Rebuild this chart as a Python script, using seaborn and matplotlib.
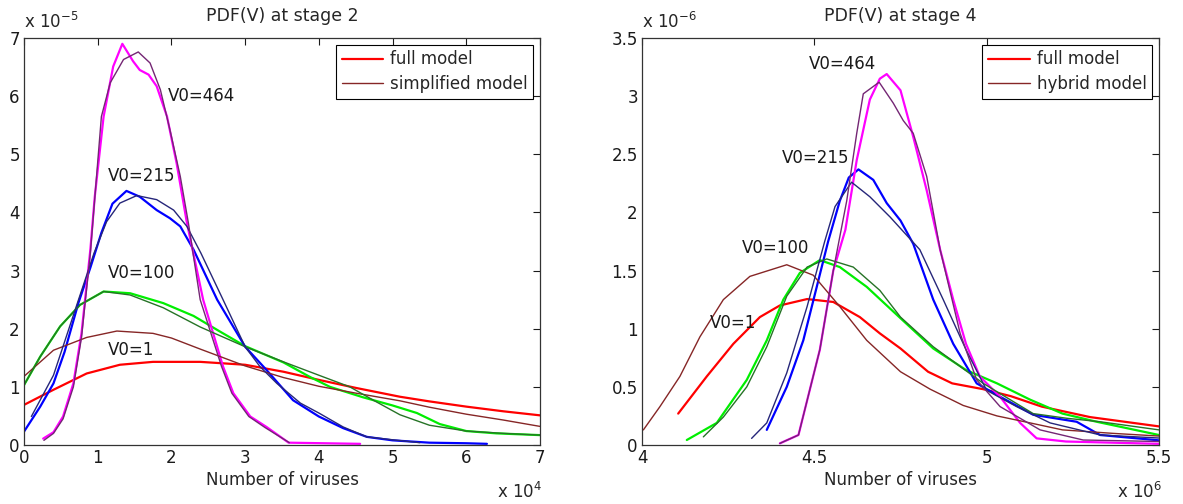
import numpy as np
import pandas as pd
import matplotlib
matplotlib.use("Agg")
import matplotlib.pyplot as plt
from matplotlib.ticker import FuncFormatter, MultipleLocator
import seaborn as sns

# ---- stage 2 (x in units of 1e4 viruses, pdf in units of 1e-5) ----
s2_full_1_x = [0, 0.2, 0.4, 0.85, 1.3, 1.75, 2.39, 3, 3.52, 4, 4.51, 5.1, 5.5, 6, 6.5, 7]
s2_full_1_y = [0.69, 0.82, 0.95, 1.23, 1.38, 1.43, 1.43, 1.38, 1.26, 1.12, 0.98, 0.83, 0.75, 0.66, 0.58, 0.51]
s2_simp_1_x = [0, 0.4, 0.85, 1.26, 1.75, 2.0, 2.39, 3, 3.52, 4, 4.51, 5.1, 5.5, 6, 6.5, 7]
s2_simp_1_y = [1.18, 1.63, 1.85, 1.96, 1.92, 1.84, 1.65, 1.36, 1.16, 1.01, 0.89, 0.76, 0.65, 0.53, 0.43, 0.32]

s2_full_100_x = [0, 0.22, 0.49, 0.76, 1.08, 1.44, 1.89, 2.3, 2.66, 3, 3.52, 3.88, 4.15, 4.6, 5.0, 5.33, 5.64, 6, 6.41, 7]
s2_full_100_y = [1.03, 1.52, 2.04, 2.41, 2.64, 2.61, 2.44, 2.22, 1.95, 1.70, 1.42, 1.17, 1.0, 0.82, 0.68, 0.55, 0.36, 0.24, 0.2, 0.17]
s2_simp_100_x = [0, 0.22, 0.49, 0.76, 1.08, 1.44, 1.89, 2.39, 3, 3.52, 4, 4.42, 4.74, 5.1, 5.5, 6, 6.5, 7]
s2_simp_100_y = [1.03, 1.52, 2.04, 2.41, 2.64, 2.58, 2.36, 2.03, 1.69, 1.43, 1.2, 1.0, 0.77, 0.52, 0.34, 0.24, 0.2, 0.17]

s2_full_215_x = [0, 0.22, 0.4, 0.55, 0.74, 0.9, 1.05, 1.2, 1.39, 1.57, 1.8, 1.98, 2.12, 2.3, 2.62, 3, 3.29, 3.65, 4, 4.33, 4.65, 5, 5.5, 6, 6.28]
s2_full_215_y = [0.23, 0.66, 1.06, 1.6, 2.45, 3.05, 3.65, 4.15, 4.37, 4.27, 4.04, 3.9, 3.76, 3.36, 2.5, 1.69, 1.29, 0.77, 0.49, 0.29, 0.14, 0.08, 0.04, 0.03, 0.02]
s2_simp_215_x = [0.1, 0.4, 0.74, 0.95, 1.12, 1.3, 1.53, 1.8, 2.03, 2.21, 2.4, 2.7, 3, 3.2, 3.43, 3.75, 4, 4.33, 4.65, 5, 5.37]
s2_simp_215_y = [0.49, 1.2, 2.5, 3.3, 3.84, 4.16, 4.29, 4.22, 4.04, 3.76, 3.3, 2.5, 1.69, 1.35, 1.06, 0.72, 0.55, 0.31, 0.14, 0.09, 0.04]

s2_full_464_x = [0.26, 0.4, 0.53, 0.67, 0.78, 0.9, 0.96, 1.08, 1.21, 1.334, 1.48, 1.57, 1.69, 1.8, 1.94, 2.07, 2.21, 2.43, 2.7, 2.84, 3.07, 3.29, 3.59, 4.56]
s2_full_464_y = [0.11, 0.22, 0.49, 1.06, 1.92, 3.36, 4.27, 5.65, 6.51, 6.9, 6.6, 6.45, 6.37, 6.17, 5.65, 4.85, 3.82, 2.5, 1.35, 0.89, 0.49, 0.31, 0.04, 0.02]
s2_simp_464_x = [0.27, 0.4, 0.53, 0.67, 0.78, 0.9, 1.05, 1.17, 1.35, 1.55, 1.71, 1.85, 1.98, 2.12, 2.23, 2.39, 2.68, 2.82, 3.05, 3.27, 3.6]
s2_simp_464_y = [0.08, 0.2, 0.45, 1.0, 1.85, 3.3, 5.65, 6.23, 6.63, 6.76, 6.57, 6.11, 5.42, 4.62, 3.82, 2.5, 1.35, 0.89, 0.49, 0.3, 0.04]

# ---- stage 4 (x in units of 1e6 viruses, pdf in units of 1e-6) ----
s4_full_1_x = [4.105, 4.188, 4.265, 4.342, 4.4, 4.479, 4.555, 4.632, 4.69, 4.75, 4.83, 4.9, 4.99, 5.07, 5.16, 5.3, 5.5]
s4_full_1_y = [0.27, 0.59, 0.87, 1.10, 1.20, 1.255, 1.23, 1.10, 0.96, 0.83, 0.63, 0.53, 0.48, 0.42, 0.33, 0.24, 0.16]
s4_hyb_1_x = [4.004, 4.052, 4.11, 4.168, 4.236, 4.313, 4.42, 4.497, 4.574, 4.652, 4.75, 4.836, 4.932, 5.03, 5.126, 5.22, 5.367, 5.5]
s4_hyb_1_y = [0.13, 0.33, 0.59, 0.93, 1.25, 1.45, 1.55, 1.46, 1.19, 0.90, 0.63, 0.48, 0.34, 0.25, 0.19, 0.13, 0.10, 0.077]

s4_full_100_x = [4.13, 4.217, 4.304, 4.362, 4.41, 4.458, 4.516, 4.574, 4.652, 4.75, 4.845, 4.94, 5.03, 5.126, 5.22, 5.319, 5.5]
s4_full_100_y = [0.043, 0.19, 0.56, 0.90, 1.25, 1.48, 1.59, 1.53, 1.36, 1.09, 0.83, 0.645, 0.53, 0.39, 0.27, 0.2, 0.086]
s4_hyb_100_x = [4.178, 4.236, 4.304, 4.362, 4.42, 4.479, 4.536, 4.613, 4.69, 4.75, 4.845, 4.99, 5.135, 5.232, 5.329, 5.5]
s4_hyb_100_y = [0.07, 0.24, 0.5, 0.845, 1.28, 1.53, 1.60, 1.53, 1.33, 1.10, 0.845, 0.53, 0.27, 0.23, 0.2, 0.13]

s4_full_215_x = [4.362, 4.42, 4.468, 4.507, 4.54, 4.574, 4.6, 4.628, 4.671, 4.71, 4.75, 4.787, 4.845, 4.903, 4.971, 5.039, 5.135, 5.261, 5.329, 5.5]
s4_full_215_y = [0.13, 0.5, 0.9, 1.36, 1.75, 2.1, 2.3, 2.37, 2.28, 2.08, 1.93, 1.73, 1.25, 0.87, 0.53, 0.415, 0.26, 0.2, 0.086, 0.04]
s4_hyb_215_x = [4.318, 4.362, 4.42, 4.479, 4.53, 4.56, 4.608, 4.661, 4.72, 4.806, 4.874, 4.94, 5.0, 5.087, 5.184, 5.33, 5.5]
s4_hyb_215_y = [0.057, 0.19, 0.62, 1.19, 1.75, 2.05, 2.26, 2.135, 1.96, 1.68, 1.25, 0.82, 0.47, 0.33, 0.19, 0.086, 0.06]

s4_full_464_x = [4.40, 4.454, 4.516, 4.555, 4.59, 4.623, 4.661, 4.69, 4.71, 4.75, 4.787, 4.826, 4.865, 4.903, 4.94, 4.98, 5.039, 5.097, 5.145, 5.23, 5.5]
s4_full_464_y = [0.014, 0.086, 0.82, 1.5, 1.85, 2.45, 2.97, 3.15, 3.19, 3.05, 2.65, 2.19, 1.68, 1.25, 0.87, 0.59, 0.415, 0.19, 0.057, 0.03, 0.01]
s4_hyb_464_x = [4.40, 4.454, 4.516, 4.555, 4.594, 4.623, 4.642, 4.688, 4.729, 4.758, 4.787, 4.826, 4.865, 4.923, 4.971, 5.039, 5.155, 5.28, 5.5]
s4_hyb_464_y = [0.014, 0.086, 0.82, 1.5, 2.1, 2.68, 3.02, 3.12, 2.94, 2.79, 2.68, 2.31, 1.68, 0.96, 0.56, 0.33, 0.13, 0.043, 0.03]

v0_names = ["V0=1", "V0=100", "V0=215", "V0=464"]
s2_label_x = [1.14, 1.14, 1.14, 1.95]
s2_label_y = [1.63, 2.95, 4.63, 6.0]
s4_label_x = [4.197, 4.289, 4.405, 4.483]
s4_label_y = [1.045, 1.69, 2.465, 3.28]

full_colors = ["#ff0000", "#00ee00", "#0000ff", "#ff00ff"]
simp_colors = ["#862626", "#267326", "#26267a", "#742674"]

sns.set_style("white")
plt.rcParams["font.family"] = ["DejaVu Sans"]
plt.rcParams["mathtext.default"] = "regular"

fig = plt.figure(figsize=(11.83, 5.04), dpi=100)
ax1 = fig.add_axes([24 / 1183, 59 / 504, 516 / 1183, 407 / 504])
ax2 = fig.add_axes([642 / 1183, 59 / 504, 517 / 1183, 407 / 504])


def draw_panel(ax, full, simp, lab_x, lab_y, title, other_name, xlim, ylim,
               xstep, ystep, xexp, yexp):
    sx, sy = 10.0 ** xexp, 10.0 ** yexp
    for (fx, fy), c in zip(full, full_colors):
        sns.lineplot(x=np.array(fx) * sx, y=np.array(fy) * sy, ax=ax, color=c, lw=1.6,
                     sort=False, estimator=None)
    for (hx, hy), c in zip(simp, simp_colors):
        sns.lineplot(x=np.array(hx) * sx, y=np.array(hy) * sy, ax=ax, color=c, lw=1.0,
                     sort=False, estimator=None)
    handles = [ax.lines[0], ax.lines[4]]
    leg = ax.legend(handles, ["full model", other_name], loc="upper right", fontsize=12,
                    frameon=True, fancybox=False, edgecolor="black", framealpha=1,
                    borderpad=0.35, labelspacing=0.4, handlelength=2.5,
                    handletextpad=0.4, borderaxespad=0.4)
    leg.get_frame().set_linewidth(0.8)

    for name, lx, ly in zip(v0_names, lab_x, lab_y):
        ax.text(lx * sx, ly * sy, name, fontsize=12, ha="left", va="center", color="#1a1a1a")

    ax.set_xlim(xlim[0] * sx, xlim[1] * sx)
    ax.set_ylim(ylim[0] * sy, ylim[1] * sy)
    ax.xaxis.set_major_locator(MultipleLocator(xstep * sx))
    ax.yaxis.set_major_locator(MultipleLocator(ystep * sy))
    ax.xaxis.set_major_formatter(FuncFormatter(lambda v, p: f"{v / sx:g}"))
    ax.yaxis.set_major_formatter(FuncFormatter(lambda v, p: f"{v / sy:g}"))
    ax.tick_params(direction="in", length=5, width=0.8, top=True, right=True,
                   labelsize=12, colors="#1a1a1a", pad=3)
    for sp in ax.spines.values():
        sp.set_color("#333333")
        sp.set_linewidth(0.9)
    ax.set_title(title, fontsize=12.5, pad=12)
    ax.set_xlabel("Number of viruses", fontsize=12, labelpad=3)
    ax.set_ylabel("")
    ax.text(0.0, 1.015, f"x 10$^{{{yexp}}}$", transform=ax.transAxes, fontsize=12,
            ha="left", va="bottom")
    ax.text(1.005, -0.13, f"x 10$^{{{xexp}}}$", transform=ax.transAxes, fontsize=12,
            ha="right", va="baseline")


draw_panel(ax1,
           [(s2_full_1_x, s2_full_1_y), (s2_full_100_x, s2_full_100_y),
            (s2_full_215_x, s2_full_215_y), (s2_full_464_x, s2_full_464_y)],
           [(s2_simp_1_x, s2_simp_1_y), (s2_simp_100_x, s2_simp_100_y),
            (s2_simp_215_x, s2_simp_215_y), (s2_simp_464_x, s2_simp_464_y)],
           s2_label_x, s2_label_y, "PDF(V) at stage 2", "simplified model",
           (0, 7), (0, 7), 1, 1, 4, -5)

draw_panel(ax2,
           [(s4_full_1_x, s4_full_1_y), (s4_full_100_x, s4_full_100_y),
            (s4_full_215_x, s4_full_215_y), (s4_full_464_x, s4_full_464_y)],
           [(s4_hyb_1_x, s4_hyb_1_y), (s4_hyb_100_x, s4_hyb_100_y),
            (s4_hyb_215_x, s4_hyb_215_y), (s4_hyb_464_x, s4_hyb_464_y)],
           s4_label_x, s4_label_y, "PDF(V) at stage 4", "hybrid model",
           (4, 5.5), (0, 3.5), 0.5, 0.5, 6, -6)

fig.savefig("out.png", dpi=100)
